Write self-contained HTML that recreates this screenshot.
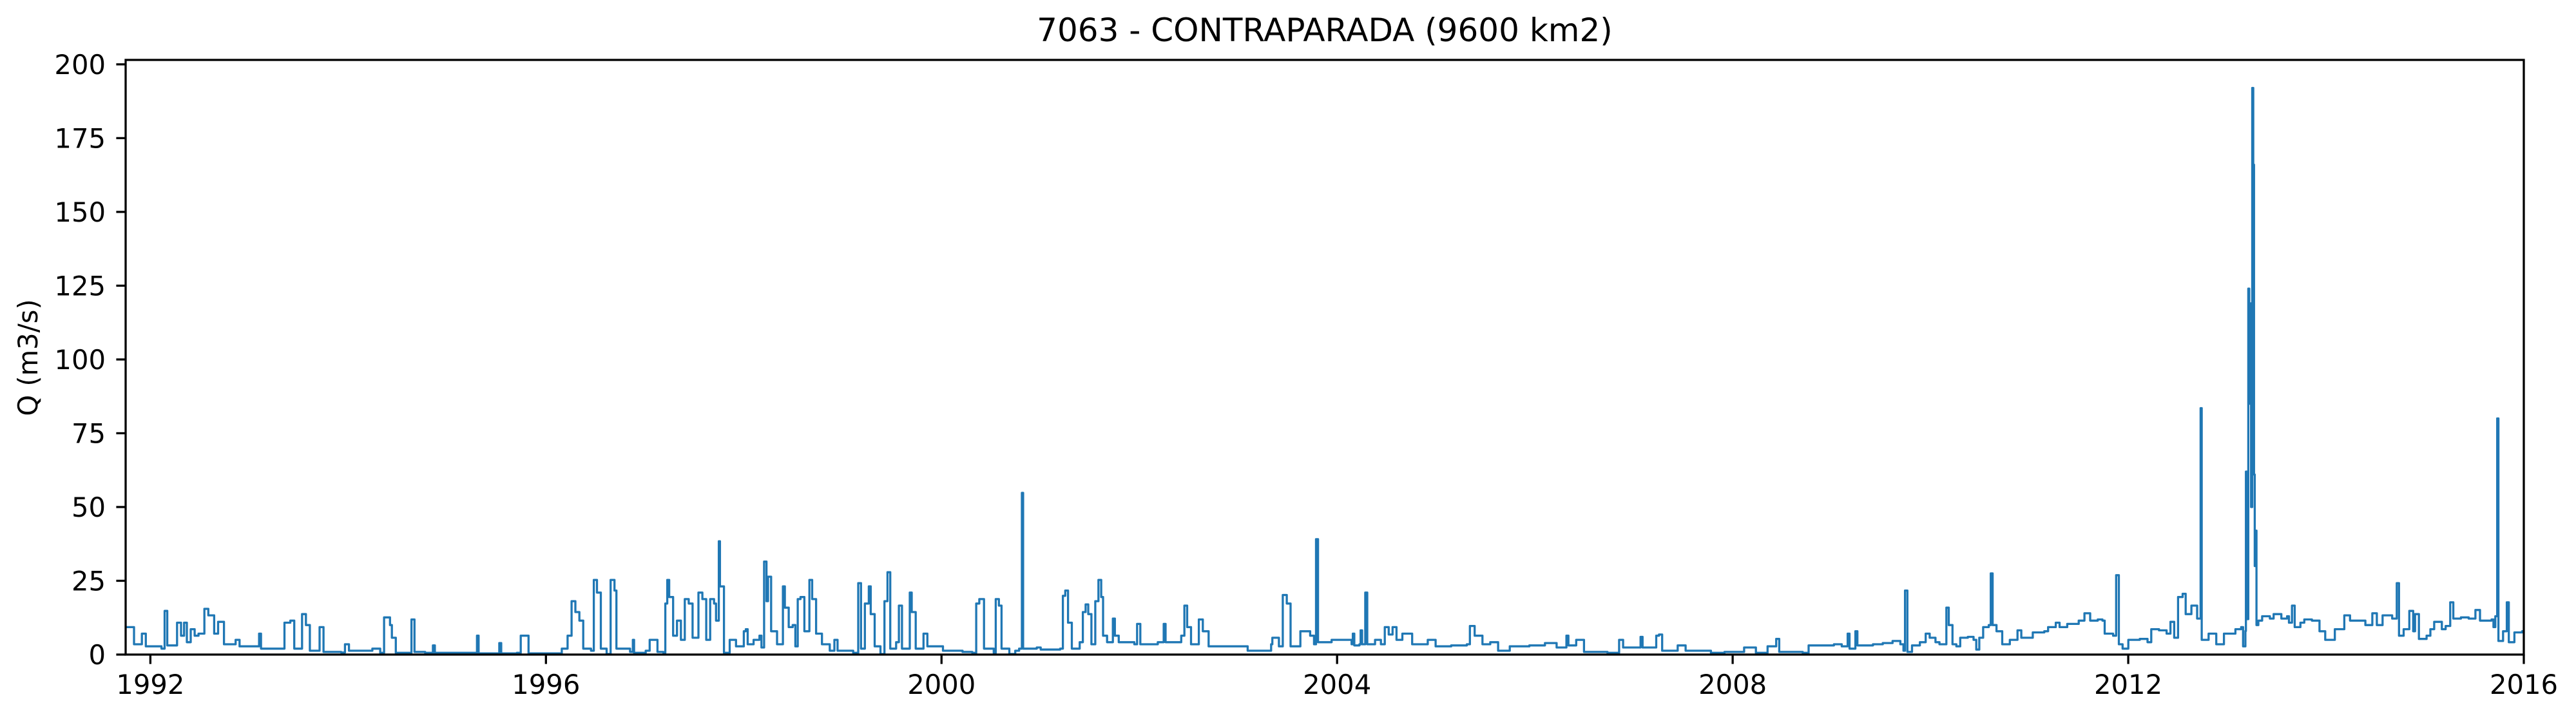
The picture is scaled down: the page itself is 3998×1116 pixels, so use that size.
<!DOCTYPE html>
<html><head><meta charset="utf-8"><title>7063 - CONTRAPARADA</title>
<style>html,body{margin:0;padding:0;background:#fff}svg{display:block}text{font-family:"DejaVu Sans","Liberation Sans",sans-serif;fill:#000}</style>
</head><body>
<svg id="chart" width="3998" height="1116" viewBox="0 0 3998 1116" xmlns="http://www.w3.org/2000/svg">
<rect width="3998" height="1116" fill="#fff"/>
<text x="2056" y="64" font-size="50" text-anchor="middle">7063 - CONTRAPARADA (9600 km2)</text>
<text transform="translate(58,555) rotate(-90)" font-size="41.7" text-anchor="middle">Q (m3/s)</text>
<g id="series"></g>
<g id="axes"></g>
</svg>
<script>
const years = [1991.757,1991.835,1991.914,1991.954,1992.112,1992.144,1992.171,1992.27,1992.31,1992.341,1992.369,1992.408,1992.448,1992.487,1992.546,1992.586,1992.645,1992.685,1992.744,1992.862,1992.902,1993.099,1993.119,1993.297,1993.356,1993.415,1993.455,1993.534,1993.573,1993.613,1993.711,1993.751,1993.929,1993.968,1994.008,1994.245,1994.324,1994.363,1994.423,1994.442,1994.482,1994.6,1994.64,1994.671,1994.778,1994.857,1994.877,1995.271,1995.303,1995.319,1995.528,1995.548,1995.706,1995.745,1995.785,1995.824,1996.022,1996.16,1996.219,1996.259,1996.298,1996.338,1996.377,1996.456,1996.484,1996.516,1996.555,1996.614,1996.654,1996.693,1996.713,1996.851,1996.879,1996.891,1997.009,1997.049,1997.128,1997.187,1997.207,1997.227,1997.246,1997.286,1997.325,1997.365,1997.404,1997.444,1997.483,1997.542,1997.582,1997.621,1997.661,1997.7,1997.72,1997.748,1997.76,1997.8,1997.858,
1997.922,1998.001,1998.021,1998.04,1998.1,1998.159,1998.179,1998.206,1998.23,1998.246,1998.277,1998.337,1998.396,1998.416,1998.455,1998.495,1998.522,1998.546,1998.574,1998.613,1998.664,1998.692,1998.732,1998.791,1998.87,1998.917,1998.949,1999.107,1999.158,1999.186,1999.225,1999.265,1999.284,1999.324,1999.383,1999.423,1999.454,1999.482,1999.541,1999.569,1999.6,1999.679,1999.699,1999.739,1999.818,1999.857,2000.015,2000.213,2000.311,2000.351,2000.382,2000.43,2000.528,2000.548,2000.58,2000.607,2000.686,2000.746,2000.785,2000.813,2000.825,2000.963,2001.003,2001.2,2001.227,2001.251,2001.279,2001.318,2001.397,2001.429,2001.457,2001.484,2001.516,2001.555,2001.587,2001.615,2001.634,2001.674,2001.733,2001.753,2001.792,2001.95,2001.978,2002.01,2002.187,2002.247,2002.266,2002.424,2002.456,2002.484,2002.523,2002.602,2002.642,2002.701,2002.977,2003.096,2003.333,2003.345,2003.412,2003.451,2003.491,2003.53,2003.629,2003.728,2003.767,2003.787,2003.807,2003.945,
2004.147,2004.159,2004.174,2004.226,2004.238,2004.253,2004.285,2004.305,2004.384,2004.443,2004.482,2004.522,2004.561,2004.601,2004.66,2004.719,2004.759,2004.917,2004.996,2005.154,2005.312,2005.343,2005.391,2005.47,2005.549,2005.628,2005.746,2005.944,2006.102,2006.22,2006.319,2006.339,2006.418,2006.497,2006.615,2006.734,2006.852,2006.892,2007.069,2007.089,2007.227,2007.255,2007.287,2007.444,2007.524,2007.721,2007.78,2007.918,2008.116,2008.235,2008.353,2008.44,2008.471,2008.708,2008.768,2008.866,2009.024,2009.103,2009.163,2009.182,2009.241,2009.261,2009.419,2009.518,2009.617,2009.696,2009.727,2009.743,2009.767,2009.814,2009.893,2009.952,2009.992,2010.051,2010.091,
2010.161,2010.185,2010.223,2010.262,2010.301,2010.378,2010.436,2010.463,2010.494,2010.533,2010.59,2010.61,2010.629,2010.668,2010.726,2010.803,2010.88,2010.919,2011.035,2011.151,2011.19,2011.267,2011.306,2011.383,2011.499,2011.557,2011.615,2011.692,2011.739,2011.762,2011.847,2011.878,2011.905,2011.943,2012.001,2012.117,2012.195,2012.233,2012.311,2012.388,2012.427,2012.465,2012.504,2012.55,2012.581,2012.639,2012.697,2012.724,2012.732,2012.743,2012.813,2012.89,2012.968,2013.084,2013.142,2013.161,
2013.185,2013.19,2013.205,2013.214,2013.224,2013.234,2013.242,2013.254,2013.264,2013.272,2013.279,2013.289,2013.297,
2013.316,2013.354,2013.432,2013.47,2013.548,2013.606,2013.625,2013.656,2013.683,2013.741,2013.78,2013.857,2013.934,2013.992,2014.05,2014.089,2014.185,2014.243,2014.321,2014.398,2014.468,2014.514,2014.572,2014.669,2014.715,2014.738,2014.785,2014.842,2014.881,2014.9,2014.939,2015.017,2015.055,2015.094,2015.171,2015.21,2015.256,2015.287,2015.364,2015.442,2015.511,2015.557,2015.674,2015.693,2015.712,2015.731,2015.743,2015.79,2015.828,2015.848,2015.905,2015.983,2016.0];
const flows = [9.3,3.5,7.1,2.8,2.0,14.8,3.1,10.8,6.4,10.8,4.2,8.6,6.4,7.1,15.5,13.3,7.1,11.1,3.5,5.0,2.8,7.1,2.0,2.0,10.8,11.5,2.0,13.7,10.0,1.3,9.3,0.9,0.7,3.5,1.3,2.0,0.6,12.6,10.0,5.7,0.6,0.6,11.9,0.9,0.6,3.1,0.6,0.6,6.4,0.4,3.9,0.4,0.6,6.4,6.4,0.4,0.4,2.0,6.4,18.1,14.4,11.5,2.0,1.3,25.3,21.0,2.0,0.2,25.3,21.7,2.0,0.9,5.0,0.6,1.3,5.0,0.9,0.6,17.3,25.3,19.5,6.4,11.5,5.0,18.8,17.3,5.7,21.0,18.8,5.0,18.8,17.3,11.5,38.4,23.1,0.6,5.0,
2.8,7.9,8.6,3.5,5.0,6.4,2.4,31.5,18.1,26.4,7.9,3.5,23.1,15.9,9.3,10.0,2.8,18.8,19.5,7.9,25.3,18.8,7.1,3.5,1.3,5.0,1.3,0.6,24.2,2.0,17.3,23.1,13.7,2.8,0.2,18.1,27.9,2.0,4.2,16.6,2.0,21.0,14.4,2.0,7.1,2.8,1.3,0.9,0.6,17.3,18.8,2.0,0.6,18.8,16.6,2.0,0.2,1.3,2.0,54.8,2.0,2.4,1.7,2.0,19.9,21.7,10.8,2.0,4.2,14.4,17.0,13.7,3.5,18.1,25.3,19.5,6.4,4.2,12.2,6.4,4.2,3.5,10.4,3.5,4.2,10.4,4.2,6.4,16.6,9.3,3.5,11.9,7.9,2.8,2.8,1.3,3.5,5.7,2.8,20.2,17.3,2.8,7.9,6.4,3.5,39.1,4.2,5.0,
3.5,7.1,3.1,3.5,8.2,3.5,21.0,3.5,5.0,3.5,9.3,6.8,9.3,5.0,7.1,7.1,3.5,5.0,2.8,3.1,3.5,9.7,6.4,3.5,4.2,1.3,2.8,3.1,3.9,2.4,6.4,3.1,5.0,0.9,0.9,0.6,5.0,2.4,6.0,2.4,6.4,6.8,1.3,3.1,1.3,1.3,0.6,0.9,2.4,0.6,2.8,5.3,0.9,0.6,3.1,3.1,3.5,2.8,7.1,2.0,7.9,3.1,3.5,3.9,4.6,3.5,1.3,21.7,0.9,3.1,4.2,7.1,5.7,4.2,3.5,
15.9,10.0,3.5,2.8,5.7,6.0,5.0,1.7,5.7,9.3,10.0,27.5,10.0,7.9,3.5,5.0,8.2,5.7,7.5,7.9,9.3,10.8,9.3,10.4,11.5,14.0,11.5,11.9,11.5,7.1,6.4,26.9,3.5,2.0,5.0,5.3,4.2,8.6,8.2,7.1,11.1,5.7,19.5,20.6,13.7,16.6,12.2,12.2,83.5,5.0,7.1,3.5,7.1,8.6,9.3,2.8,
8,62,12,124,85,119,50,192,166,61,30,42,10,
11.5,13.0,12.2,13.7,12.2,13.0,10.8,16.6,9.3,10.8,11.9,11.5,7.9,5.0,5.0,8.6,13.3,11.5,11.5,10.0,14.0,10.0,13.3,12.2,24.2,6.4,8.6,14.8,7.9,13.7,5.3,6.4,8.6,11.1,8.6,9.7,17.7,12.2,12.6,12.2,15.1,11.5,11.9,9.3,13.0,80,4.6,7.9,17.7,4.2,7.5,7.9,7.9];
const xTickYears = [1992,1996,2000,2004,2008,2012,2016];
const xTickLabels = ["1992","1996","2000","2004","2008","2012","2016"];
const yTickValues = [0,25,50,75,100,125,150,175,200];
const yTickLabels = ["0","25","50","75","100","125","150","175","200"];

const NS = "http://www.w3.org/2000/svg";
const L = 195, R = 3917, T = 93, B = 1016;
const X0 = 1991.75, X1 = 2016.0, Y0 = 0, Y1 = 201.5;
function xScale(v){ return L + (v - X0) / (X1 - X0) * (R - L); }
function yScale(v){ return B - (v - Y0) / (Y1 - Y0) * (B - T); }
function mk(tag, attrs){ const e = document.createElementNS(NS, tag); for (const k in attrs) e.setAttribute(k, attrs[k]); return e; }

const series = document.getElementById('series');
let d = '';
for (let i = 0; i < years.length; i++) {
  const x = xScale(years[i]).toFixed(1), y = yScale(flows[i]).toFixed(1);
  if (i === 0) d += 'M' + x + ' ' + y;
  else d += 'H' + x + 'V' + y;
}
const clip = mk('clipPath', {id: 'plotclip'});
clip.appendChild(mk('rect', {x: L, y: T, width: R - L, height: B - T}));
series.appendChild(clip);
const line = mk('path', {d: d, fill: 'none', stroke: '#1f77b4', 'stroke-width': 3.3, 'stroke-linejoin': 'round', 'clip-path': 'url(#plotclip)'});


series.appendChild(line);

const axes = document.getElementById('axes');
const frame = mk('rect', {x: L, y: T, width: R - L, height: B - T, fill: 'none', stroke: '#000', 'stroke-width': 3.3});


axes.appendChild(frame);

xTickYears.forEach((yr, i) => {
  const x = xScale(yr);
  const t = mk('line', {x1: x, x2: x, y1: B, y2: B + 14.6, stroke: '#000', 'stroke-width': 3.3});
  
  
  axes.appendChild(t);
  const lb = mk('text', {x: x, y: 1077, 'font-size': 41.7, 'text-anchor': 'middle'});
  lb.textContent = xTickLabels[i];
  
  
  axes.appendChild(lb);
});
yTickValues.forEach((v, i) => {
  const y = yScale(v);
  const t = mk('line', {x1: L - 14.6, x2: L, y1: y, y2: y, stroke: '#000', 'stroke-width': 3.3});
  
  
  axes.appendChild(t);
  const lb = mk('text', {x: 164, y: y + 15, 'font-size': 41.7, 'text-anchor': 'end'});
  lb.textContent = yTickLabels[i];
  
  
  axes.appendChild(lb);
});
</script>
</body></html>
